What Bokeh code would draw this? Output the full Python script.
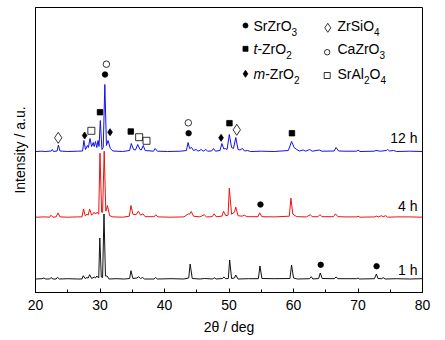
from bokeh.plotting import figure
from bokeh.models import Range1d, SingleIntervalTicker, FixedTicker, Label
from bokeh.embed import file_html
from bokeh.resources import INLINE

# ---------------- data (2theta in deg, intensity in a.u. above each baseline) ----------------
pattern_1h = [
    (20.0, 0), (21.0, 0.3), (21.3, 1.0), (21.6, 0), (22.2, 0), (22.4, 1.5), (22.7, 0), (23.2, 0),
    (23.4, 1.7), (23.7, 0), (25.0, 0.3), (26.5, 0), (27.2, 0), (27.4, 3.3), (27.7, 0.5), (28.0, 1.5),
    (28.15, 0.8), (28.4, 4.3), (28.7, 0.5), (29.1, 2.0), (29.3, 1.0), (29.5, 3.0), (29.8, 1.0),
    (29.97, 41.0), (30.2, 2.0), (30.4, 1.5), (30.62, 65.0), (30.85, 3.0), (31.1, 3.0), (31.4, 0),
    (32.5, 0.3), (33.8, 0), (34.6, 0.5), (34.8, 8.3), (35.1, 0.5), (35.7, 1.0), (36.0, 2.3),
    (36.3, 0.5), (36.6, 1.5), (36.9, 0), (38.4, 0), (38.6, 1.5), (38.9, 0), (41.0, 0.3), (43.0, 0),
    (43.75, 1.0), (43.98, 15.0), (44.3, 0.5), (45.5, 0), (46.2, 0.5), (47.5, 0), (47.7, 1.3),
    (48.0, 0), (49.0, 0.5), (49.2, 2.0), (49.5, 0.3), (49.9, 0.5), (50.1, 19.0), (50.4, 0.5),
    (50.85, 1.0), (51.05, 4.0), (51.4, 0), (53.0, 0.3), (54.55, 0.3), (54.8, 13.0), (55.1, 0.5),
    (57.0, 0.3), (59.45, 0.5), (59.7, 14.0), (60.0, 1.0), (60.6, 0), (62.5, 0.3), (62.75, 2.3),
    (63.0, 0), (63.9, 0.5), (64.15, 6.0), (64.45, 0.5), (66.3, 0.3), (66.6, 2.0), (66.9, 0.3),
    (69.8, 0.3), (70.0, 1.0), (70.2, 0), (72.55, 0.3), (72.85, 5.0), (73.1, 0.5), (73.7, 0.3),
    (73.9, 1.5), (74.2, 0), (76.0, 0.3), (78.0, 0), (80.0, 0.3),
]

pattern_4h = [
    (20.0, 0), (21.5, 0.3), (22.2, 0), (22.4, 2.0), (22.7, 0), (23.2, 0.3), (23.5, 4.3), (23.8, 0.3),
    (25.0, 0), (26.5, 0.3), (27.2, 0.3), (27.45, 8.3), (27.7, 1.5), (28.0, 3.0), (28.15, 2.0),
    (28.4, 8.0), (28.7, 2.0), (29.1, 5.0), (29.3, 3.0), (29.55, 5.0), (29.8, 3.0), (30.0, 64.0),
    (30.25, 5.0), (30.4, 5.0), (30.65, 66.0), (30.9, 6.0), (31.15, 11.7), (31.5, 1.5), (32.0, 0.3),
    (33.5, 0), (34.55, 1.0), (34.8, 11.7), (35.1, 3.0), (35.6, 2.5), (35.95, 6.0), (36.3, 2.0),
    (36.65, 3.4), (37.0, 0.5), (38.4, 0.5), (38.65, 2.4), (39.0, 0.3), (41.0, 0), (43.0, 0.3),
    (43.5, 2.5), (43.7, 3.3), (43.9, 3.0), (44.15, 5.7), (44.5, 1.0), (45.5, 0.3), (46.15, 2.5),
    (46.5, 0.3), (47.4, 0.5), (47.7, 3.4), (48.0, 0.5), (48.9, 1.0), (49.15, 6.0), (49.5, 1.5),
    (49.85, 2.0), (50.05, 29.0), (50.4, 3.0), (50.85, 5.0), (51.05, 10.0), (51.4, 1.5), (52.0, 1.0),
    (52.4, 2.0), (52.8, 0.5), (54.5, 0.5), (54.75, 4.4), (55.1, 0.5), (57.0, 0.3), (59.35, 1.0),
    (59.6, 19.0), (59.9, 3.0), (60.5, 0.5), (62.0, 0.3), (62.6, 2.5), (62.9, 0.5), (63.8, 0.5),
    (64.1, 2.5), (64.4, 0.5), (66.2, 0.5), (66.5, 3.4), (66.9, 0.5), (68.0, 0.3), (69.8, 0.3),
    (70.0, 1.0), (70.3, 0), (72.6, 0.3), (72.85, 1.0), (73.2, 0.3), (73.6, 1.5), (73.9, 0.5),
    (74.3, 1.5), (74.6, 0), (76.0, 0.3), (78.0, 0.3), (80.0, 0),
]

pattern_12h = [
    (20.0, 0), (21.0, 0.3), (21.5, 0), (22.45, 0.5), (22.6, 2.0), (22.8, 0), (23.35, 0.5),
    (23.55, 6.5), (23.8, 0.5), (25.0, 0), (26.5, 0.3), (27.3, 0.5), (27.5, 11.0), (27.75, 2.0),
    (28.05, 6.0), (28.2, 4.0), (28.45, 13.0), (28.7, 5.0), (28.95, 9.0), (29.1, 5.0), (29.3, 10.0),
    (29.5, 4.0), (29.7, 11.0), (29.85, 5.0), (30.05, 31.0), (30.3, 2.0), (30.5, 4.0), (30.75, 67.0),
    (31.0, 6.0), (31.25, 11.0), (31.6, 3.0), (32.0, 0.5), (33.5, 0), (34.6, 1.0), (34.85, 8.0),
    (35.2, 2.0), (35.5, 1.5), (35.85, 7.0), (36.2, 2.0), (36.4, 1.5), (36.7, 6.0), (37.0, 1.0),
    (38.3, 0.3), (38.55, 3.0), (38.9, 0.3), (40.5, 0), (42.5, 0.3), (43.4, 1.0), (43.65, 9.0),
    (43.9, 3.0), (44.2, 4.0), (44.5, 1.0), (44.9, 2.0), (45.2, 0.3), (45.7, 2.0), (46.0, 0.3),
    (46.4, 2.0), (46.7, 0.3), (47.3, 0.5), (47.6, 3.0), (47.9, 0.3), (48.6, 1.0), (48.9, 8.0),
    (49.2, 2.5), (49.45, 3.0), (49.7, 2.0), (50.05, 17.0), (50.4, 4.0), (50.7, 3.0), (51.05, 14.0),
    (51.4, 2.0), (51.7, 1.5), (52.1, 3.0), (52.4, 0.5), (52.9, 1.0), (53.3, 0), (55.0, 0.3),
    (57.0, 0), (59.2, 1.0), (59.7, 10.0), (60.1, 4.0), (60.5, 2.0), (60.9, 0.5), (61.5, 1.5),
    (61.9, 0.3), (62.5, 2.0), (62.9, 0.3), (64.0, 1.5), (64.4, 0.3), (66.3, 0.5), (66.6, 4.0),
    (67.0, 0.5), (68.0, 0.3), (69.8, 0.3), (70.0, 1.5), (70.3, 0), (72.5, 0.3), (72.8, 1.0),
    (73.5, 0.3), (74.4, 1.0), (74.6, 2.0), (74.9, 0.5), (75.5, 1.0), (76.0, 0), (78.0, 0.3),
    (80.0, 0),
]

series_labels = ["1 h", "4 h", "12 h"]
series_offsets = [13.5, 75.3, 141.0]
series_colors = ["#111111", "#ee1111", "#1111ee"]

# phase marker positions (2theta, plotted intensity)
srzro3_pts = [(30.78, 218.0), (43.74, 159.3), (54.88, 88.0), (64.22, 27.7), (72.88, 26.3)]
tzro2_pts = [(30.0, 180.3), (34.77, 161.0), (50.07, 169.3), (59.76, 159.3)]
mzro2_pts = [(27.62, 157.0), (31.56, 160.3), (48.77, 154.7)]
zrsio4_pts = [(23.52, 154.7), (51.21, 162.7)]
cazro3_pts = [(30.99, 228.3), (43.69, 169.7)]
sral2o4_pts = [(28.66, 161.7), (36.07, 155.3), (37.21, 151.7)]

# legend entries: list of (text piece, style) with style n=normal, i=italic, s=subscript
legend_col1 = [
    [("SrZrO", "n"), ("3", "s")],
    [("t", "i"), ("-ZrO", "n"), ("2", "s")],
    [("m", "i"), ("-ZrO", "n"), ("2", "s")],
]
legend_col2 = [
    [("ZrSiO", "n"), ("4", "s")],
    [("CaZrO", "n"), ("3", "s")],
    [("SrAl", "n"), ("2", "s"), ("O", "n"), ("4", "s")],
]

FONT = "Liberation Sans"

# ---------------- figure ----------------
p = figure(width=445, height=340, output_backend="svg", toolbar_location=None,
           x_range=Range1d(20, 80), y_range=Range1d(0, 285),
           min_border_left=35, min_border_right=23, min_border_top=7, min_border_bottom=48)
p.xgrid.visible = False
p.ygrid.visible = False
p.outline_line_color = "black"
p.outline_line_width = 1
p.background_fill_color = "white"
p.border_fill_color = "white"

xa = p.xaxis[0]
xa.ticker = SingleIntervalTicker(interval=10, num_minor_ticks=2)
xa.major_tick_in = 4
xa.major_tick_out = 0
xa.minor_tick_in = 3
xa.minor_tick_out = 0
xa.axis_line_color = "black"
xa.major_label_text_font = FONT
xa.major_label_text_font_size = "14px"
xa.major_label_text_color = "black"
xa.major_label_standoff = 7
xa.axis_label = "2θ / deg"
xa.axis_label_text_font = FONT
xa.axis_label_text_font_size = "14px"
xa.axis_label_text_font_style = "normal"
xa.axis_label_text_color = "black"
xa.axis_label_standoff = 6

ya = p.yaxis[0]
ya.ticker = FixedTicker(ticks=[])
ya.major_tick_line_color = None
ya.minor_tick_line_color = None
ya.axis_label = "Intensity / a.u."
ya.axis_label_text_font = FONT
ya.axis_label_text_font_size = "14px"
ya.axis_label_text_font_style = "normal"
ya.axis_label_text_color = "black"
ya.axis_label_standoff = 8

for pattern, off, col in zip([pattern_1h, pattern_4h, pattern_12h], series_offsets, series_colors):
    xs = [a for a, b in pattern]
    ys = [b + off for a, b in pattern]
    p.line(xs, ys, line_color=col, line_width=1)


def pts(lst):
    return [a for a, b in lst], [b for a, b in lst]


def mark(lst, marker, size, filled):
    x, y = pts(lst)
    p.scatter(x, y, marker=marker, size=size,
              fill_color="black" if filled else "white",
              line_color="black", line_width=0.8)


mark(srzro3_pts, "circle", 5.5, True)
mark(tzro2_pts, "square", 5.5, True)
mark(mzro2_pts, "diamond", 7, True)
mark(zrsio4_pts, "diamond", 11, False)
mark(cazro3_pts, "circle", 6.5, False)
mark(sral2o4_pts, "square", 7, False)

# ---------------- layout helpers (pixel -> data) ----------------
def px(xpix):
    return 20 + (xpix - 35) * 60.0 / 387.0


def py(ypix):
    return 292 - ypix


# approximate Arial / Liberation Sans advance widths (per 1000 em)
ADV = {"S": 667, "r": 333, "Z": 611, "O": 778, "C": 722, "a": 556, "i": 222, "A": 667,
       "l": 222, "-": 333, "t": 278, "m": 833}
for d in "0123456789":
    ADV[d] = 556


def text_width(s, size):
    return sum(ADV.get(ch, 556) for ch in s) * size / 1000.0


def rich_text(x0, ycen, pieces):
    """Place text pieces left to right starting at pixel x0, cap centre at pixel ycen."""
    x = x0
    for s, st in pieces:
        if st == "s":
            size, dy, style = 10, 6.0, "normal"
        else:
            size, dy, style = 14, 0.0, ("italic" if st == "i" else "normal")
        p.add_layout(Label(x=px(x), y=py(ycen + dy), text=s, text_align="left",
                           text_baseline="middle", text_font=FONT,
                           text_font_size=f"{size}px", text_font_style=style,
                           text_color="black"))
        x += text_width(s, size)


# series labels
for lab, ycen in zip(series_labels, [269.3, 205.7, 137.7]):
    p.add_layout(Label(x=px(417), y=py(ycen), text=lab, text_align="right",
                       text_baseline="middle", text_font=FONT, text_font_size="14px",
                       text_color="black"))

# legend
leg_markers = [
    (245, 25.0, "circle", 5, True), (245, 48.3, "square", 5, True), (245, 73.3, "diamond", 7, True),
    (327.3, 27.3, "diamond", 9, False), (326.7, 51.7, "circle", 5.5, False), (326.7, 75.0, "square", 6, False),
]
for xp, yp, mk, sz, filled in leg_markers:
    p.scatter([px(xp)], [py(yp)], marker=mk, size=sz, fill_color="black" if filled else "white",
              line_color="black", line_width=0.8)

for row, ycen in zip(legend_col1, [25.0, 48.3, 73.3]):
    rich_text(253, ycen, row)
for row, ycen in zip(legend_col2, [25.0, 48.3, 73.3]):
    rich_text(337, ycen, row)

open("out.html", "w").write(file_html(p, INLINE))
